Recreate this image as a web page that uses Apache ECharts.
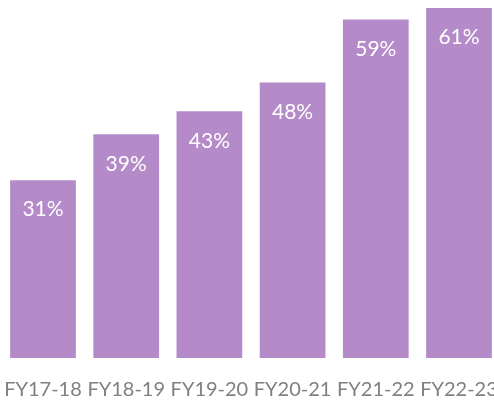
<!DOCTYPE html>
<html>
<head>
<meta charset="utf-8">
<script src="https://cdn.jsdelivr.net/npm/echarts@6/dist/echarts.min.js"></script>
<style>
  html, body { margin: 0; padding: 0; background: #fff; }
  #chart { width: 494px; height: 408px; }
</style>
</head>
<body>
<div id="chart"></div>
<script>
// data
const years = ['FY17-18', 'FY18-19', 'FY19-20', 'FY20-21', 'FY21-22', 'FY22-23']
const shares = [31, 39, 43, 48, 59, 61]

const fontName = 'Lato, "DejaVu Sans Condensed", sans-serif'

const chart = echarts.init(document.getElementById('chart'))

chart.setOption({
  backgroundColor: '#fff',
  animation: false,
  grid: {
    left: 1.4,
    width: 499.2,
    top: 0,
    bottom: 50,
    containLabel: false,
    outerBoundsMode: 'none'
  },
  xAxis: {
    type: 'category',
    data: years,
    axisLine: { show: false },
    axisTick: { show: false },
    axisLabel: {
      color: '#808080',
      fontSize: 20,
      fontFamily: fontName,
      margin: 22,
      interval: 0
    }
  },
  yAxis: {
    type: 'value',
    min: 0,
    max: 62.4,
    show: false
  },
  series: [{
    type: 'bar',
    data: shares,
    barCategoryGap: '21%',
    itemStyle: { color: '#b58ac8' },
    label: {
      show: true,
      position: 'insideTop',
      distance: 19,
      color: '#fff',
      fontSize: 21,
      fontFamily: fontName,
      formatter: p => p.value + '%'
    }
  }]
})
</script>
</body>
</html>
